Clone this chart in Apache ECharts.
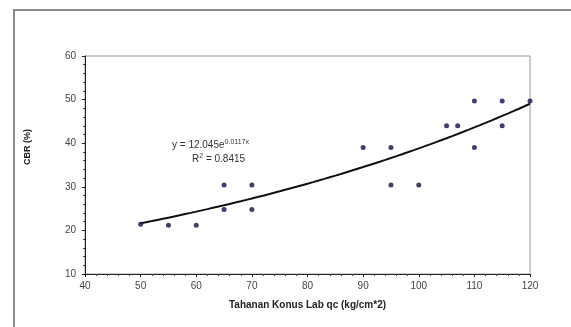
<!DOCTYPE html>
<html>
<head>
<meta charset="utf-8">
<script src="https://cdn.jsdelivr.net/npm/echarts@6/dist/echarts.min.js"></script>
<style>
  html, body { margin: 0; padding: 0; background: #fff; }
  #chart { width: 571px; height: 327px; }
</style>
</head>
<body>
<div id="chart"></div>
<script>
// Cone resistance (kg/cm^2) vs CBR (%) measurements
const qcValues  = [50, 55, 60, 65, 65, 70, 70, 90, 95, 95, 100, 105, 107, 110, 110, 115, 115, 120];
const cbrValues = [21.4, 21.2, 21.2, 30.4, 24.8, 30.4, 24.8, 39, 39, 30.4, 30.4, 44, 44, 49.7, 39, 49.7, 44, 49.7];

// Exponential trendline y = a * e^(b x), as stated in the equation label
const trendA = 12.045;
const trendB = 0.0117;
const trendR2 = 0.8415;
const trendFrom = 50, trendTo = 120;

const xTicks = [40, 50, 60, 70, 80, 90, 100, 110, 120];
const yTicks = [10, 20, 30, 40, 50, 60];

const points = qcValues.map((x, i) => [x, cbrValues[i]]);
const trend = [];
for (let x = trendFrom; x <= trendTo; x += 1) {
  trend.push([x, trendA * Math.exp(trendB * x)]);
}

const chart = echarts.init(document.getElementById('chart'), null, { renderer: 'canvas' });
const font = 'Liberation Sans, Arial, sans-serif';

chart.setOption({
  animation: false,
  backgroundColor: '#ffffff',
  grid: { left: 85, top: 56, right: 41, bottom: 53, show: true, borderColor: '#9a9a9a', borderWidth: 1, backgroundColor: 'transparent' },
  xAxis: {
    type: 'value', min: xTicks[0], max: xTicks[xTicks.length - 1], interval: 10,
    name: 'Tahanan Konus Lab qc (kg/cm*2)', nameLocation: 'middle', nameGap: 26,
    nameTextStyle: { fontFamily: font, fontSize: 10, fontWeight: 'bold', color: '#222' },
    axisLine: { show: true, onZero: false, lineStyle: { color: '#222', width: 1 } },
    axisTick: { show: true, length: 3, lineStyle: { color: '#222' } },
    minorTick: { show: true, splitNumber: 5, length: 2, lineStyle: { color: '#444' } },
    splitLine: { show: false },
    axisLabel: { fontFamily: font, fontSize: 10, color: '#444', margin: 7 }
  },
  yAxis: {
    type: 'value', min: yTicks[0], max: yTicks[yTicks.length - 1], interval: 10,
    axisLine: { show: true, onZero: false, lineStyle: { color: '#222', width: 1 } },
    axisTick: { show: true, length: 3, lineStyle: { color: '#222' } },
    minorTick: { show: true, splitNumber: 5, length: 2, lineStyle: { color: '#444' } },
    splitLine: { show: false },
    axisLabel: { fontFamily: font, fontSize: 10, color: '#444', margin: 9 }
  },
  series: [
    {
      type: 'line', data: trend, showSymbol: false, smooth: false, z: 2,
      lineStyle: { color: '#111', width: 2 }
    },
    {
      type: 'scatter', data: points, symbol: 'circle', symbolSize: 5, z: 3,
      itemStyle: { color: '#10104a' }
    }
  ],
  graphic: [
    {
      type: 'polyline', silent: true,
      shape: { points: [[14, 330], [14, 10], [575, 10]] },
      style: { stroke: '#8a8a8a', lineWidth: 2, fill: null }
    },
    {
      type: 'text', x: 28, y: 147, rotation: Math.PI / 2, silent: true,
      style: {
        text: 'CBR (%)', fontFamily: font, fontSize: 9, fontWeight: 'bold', fill: '#222',
        align: 'center', verticalAlign: 'middle'
      }
    },
    {
      type: 'text', left: 172, top: 139, silent: true,
      style: {
        text: '{n|y = 12.045e}{s|' + trendB + 'x}',
        rich: {
          n: { fontFamily: font, fontSize: 10, fill: '#333' },
          s: { fontFamily: font, fontSize: 7, fill: '#333', verticalAlign: 'top', padding: [0, 0, 6, 0] }
        }
      }
    },
    {
      type: 'text', left: 192, top: 153, silent: true,
      style: {
        text: '{n|R}{s|2}{n| = ' + trendR2 + '}',
        rich: {
          n: { fontFamily: font, fontSize: 10, fill: '#333' },
          s: { fontFamily: font, fontSize: 7, fill: '#333', padding: [0, 0, 5, 0] }
        }
      }
    }
  ]
});
</script>
</body>
</html>
